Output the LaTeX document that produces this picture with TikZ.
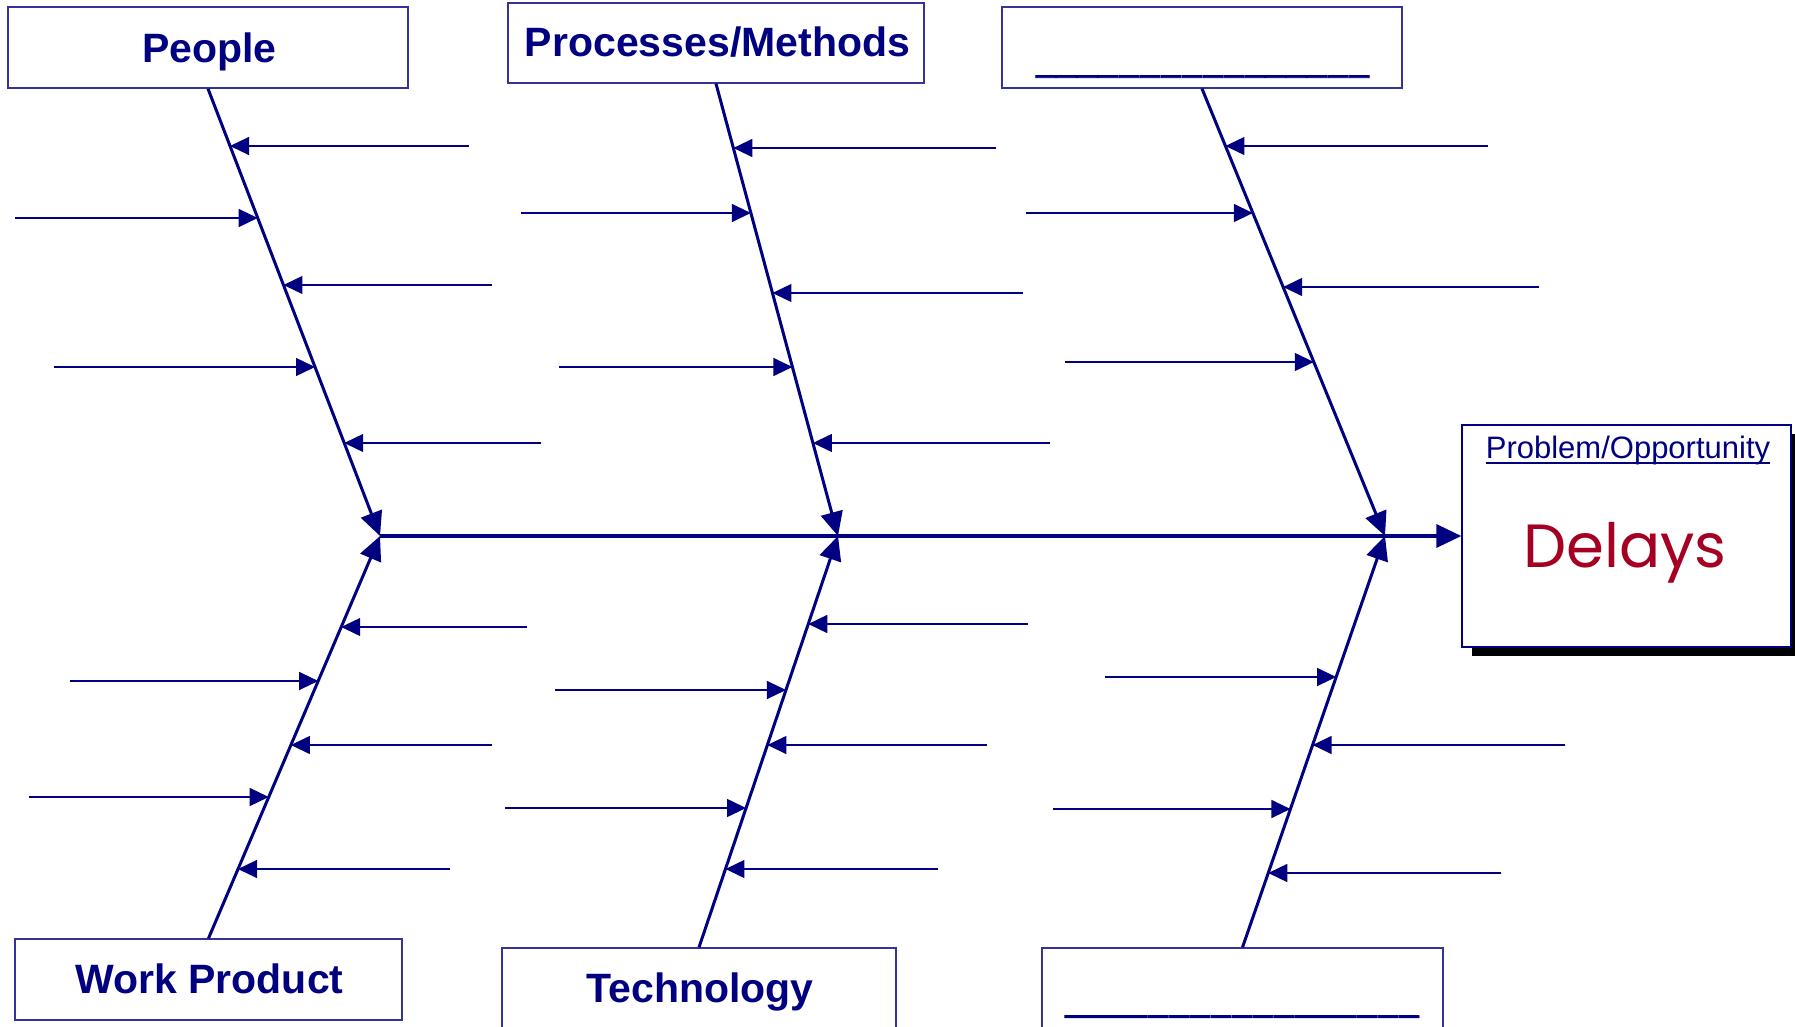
\documentclass[tikz,border=0pt]{standalone}
\usepackage{fontspec}
\setmainfont{Liberation Sans}
\newfontfamily\handfont{Poppins}
\newfontfamily\blankfont[FakeBold=2.5]{Liberation Sans}
\usetikzlibrary{arrows.meta,shadows,calc}
\definecolor{ink}{RGB}{0,0,128}
\definecolor{delayred}{RGB}{165,0,33}
\newcount\blankcount
\newcommand\blankrule[1]{\blankcount=0 \loop\_\kern2pt\advance\blankcount by 1 \ifnum\blankcount<#1\repeat}

\begin{document}
\begin{tikzpicture}[x=1pt,y=-1pt,
  catbox/.style={draw=ink!80, line width=1.4pt, fill=white, inner sep=0pt},
  cattext/.style={anchor=base, inner sep=0pt, text=ink, font=\fontsize{41}{41}\selectfont\bfseries},
  blanktext/.style={anchor=base, inner sep=0pt, text=ink, font=\blankfont\fontsize{34}{34}\selectfont},
  bone/.style={draw=ink, line width=3pt, -{Triangle[length=24pt,width=22pt]}},
  spine/.style={draw=ink, line width=3.5pt, -{Triangle[length=25pt,width=23pt]}},
  twig/.style={draw=ink, line width=1.3pt, -{Triangle[length=19pt,width=18pt]}},
]
\useasboundingbox (0,0) rectangle (1795,1027);
\clip (0,0) rectangle (1795,1027);

% category boxes
\node[catbox, minimum width=400pt, minimum height=81pt] (people) at (208,47.5) {};
\node[catbox, minimum width=416pt, minimum height=80pt] (proc) at (716,43) {};
\node[catbox, minimum width=400pt, minimum height=81pt] (blankT) at (1202,47.5) {};
\node[catbox, minimum width=387pt, minimum height=81pt] (work) at (208.5,979.5) {};
\node[catbox, minimum width=394pt, minimum height=92pt] (tech) at (699,994) {};
\node[catbox, minimum width=401pt, minimum height=92pt] (blankB) at (1242.5,994) {};

% problem box
\node[catbox, draw=ink, minimum width=329pt, minimum height=222pt,
  drop shadow={shadow xshift=10pt, shadow yshift=-9pt, fill=black, opacity=1}] (prob) at (1626.5,536) {};

% labels
\node[cattext] (tPeople) at (209.5,63) {People};
\node[cattext] (tProc) at (717.5,57) {Processes/Methods};
\node[cattext] (tWork) at (209.5,993) {Work Product};
\node[cattext] (tTech) at (700,1002) {Technology};
\node[blanktext] (tBlankT) at (1203.5,71) {\blankrule{16}};
\node[blanktext] (tBlankB) at (1243,1011) {\blankrule{17}};
\node[anchor=base, inner sep=0pt, text=ink, font=\fontsize{31}{31}\selectfont] (pTitle) at (1628,458) {Problem/Opportunity};
\draw[ink, line width=2.5pt] ([yshift=-5pt]pTitle.base west) -- ([yshift=-5pt]pTitle.base east);
\node[anchor=base, inner sep=0pt, text=delayred, font=\handfont\fontsize{61}{61}\selectfont] (delay) at (1625,567) {Delays};

% junctions on the spine
\coordinate (J1) at (380,536);
\coordinate (J2) at (838,536);
\coordinate (J3) at (1385,536);
\coordinate (b1) at (people.south);
\coordinate (b2) at (proc.south);
\coordinate (b3) at (blankT.south);
\coordinate (b4) at (work.north);
\coordinate (b5) at (tech.north);
\coordinate (b6) at (blankB.north);

% spine and bones
\draw[spine] (J1) -- (prob.west);
\draw[bone] (b1) -- (J1);
\draw[bone] (b2) -- (J2);
\draw[bone] (b3) -- (J3);
\draw[bone] (b4) -- (J1);
\draw[bone] (b5) -- (J2);
\draw[bone] (b6) -- (J3);

% twigs: free end (x,y), tip where the row meets its bone
\foreach \b/\j/\list in {
  b1/J1/{469/146, 15/218, 492/285, 54/367, 541/443},
  b2/J2/{996/148, 521/213, 1023/293, 559/367, 1050/443},
  b3/J3/{1488/146, 1026/213, 1539/287, 1065/362},
  b4/J1/{527/627, 70/681, 492/745, 29/797, 450/869},
  b5/J2/{1028/624, 555/690, 987/745, 505/808, 938/869},
  b6/J3/{1105/677, 1565/745, 1053/809, 1501/873}} {
  \foreach \fx/\fy in \list {
    \coordinate (f) at (\fx,\fy);
    \path let \p1=(\b), \p2=(\j) in
      coordinate (tip) at ({\x1+((-\fy pt)-\y1)/(\y2-\y1)*(\x2-\x1)}, {-\fy pt});
    \draw[twig] (f) -- (tip);
  }
}
\end{tikzpicture}
\end{document}
